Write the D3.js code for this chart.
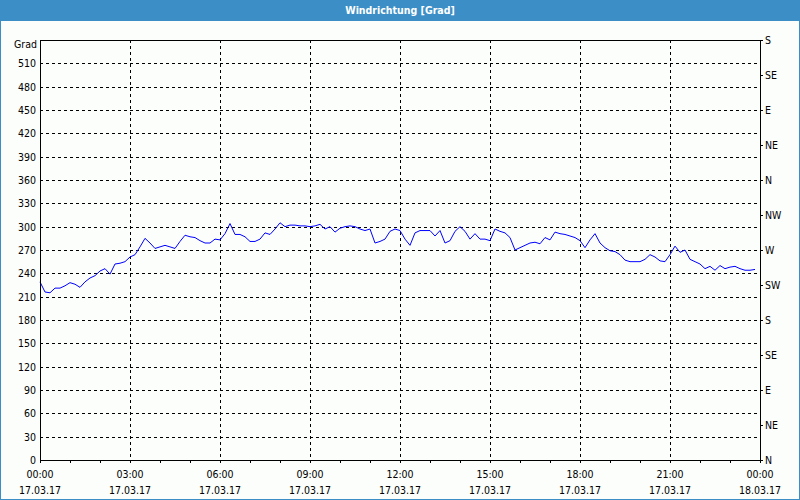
<!DOCTYPE html>
<html><head><meta charset="utf-8">
<script src="https://cdn.jsdelivr.net/npm/d3@7"></script>
<style>
html,body{margin:0;padding:0;background:#fff;}
svg text{font-family:"DejaVu Sans Condensed","DejaVu Sans",Verdana,sans-serif;}
</style></head><body>
<svg id="c" width="800" height="500"></svg>
<script>
const title = "Windrichtung [Grad]";
const unitLabel = "Grad";
const startTime = new Date(2017, 2, 17, 0, 0);
const endTime = new Date(2017, 2, 18, 0, 0);
const stepMinutes = 10;
const direction = [229,216,215,221,221,224,228,226,222,229,234,237,243,246,239,252,253,255,261,264,
274,285,279,272,274,276,274,272,281,289,287,286,282,279,279,284,283,291,304,290,
290,287,281,281,284,292,290,297,305,300,302,302,301,301,300,301,303,297,300,293,
298,300,301,300,297,295,297,279,281,284,294,297,295,284,276,292,295,295,295,288,
295,279,282,294,300,294,284,291,284,284,282,297,294,292,286,270,273,276,279,280,
278,286,283,293,291,290,288,286,282,273,283,291,279,273,269,268,264,257,255,255,
255,258,264,261,256,255,264,275,267,270,258,255,252,246,249,244,250,246,248,249,
246,244,244,245];
const leftTicks = d3.range(0, 511, 30);
const compassTicks = [0,45,90,135,180,225,270,315,360,405,450,495,540];
const compassLabels = ["N","NE","E","SE","S","SW","W","NW","N","NE","E","SE","S"];

const FONT = "DejaVu Sans Condensed, DejaVu Sans, sans-serif";
const svg = d3.select("#c");
const W = 800, H = 500;
const L = 40, R = 760, T = 40, B = 460;

svg.append("rect").attr("x",0).attr("y",0).attr("width",W).attr("height",H).attr("fill","#3c8fc6");
svg.append("rect").attr("x",1).attr("y",21).attr("width",W-2).attr("height",H-22).attr("fill","#fcfefc");
svg.append("text").attr("x",W/2).attr("y",14).attr("text-anchor","middle")
  .attr("fill","#fff").attr("font-size",10.5).attr("font-weight","bold").text(title);

const data = direction.map((v,i)=>({t:new Date(startTime.getTime()+i*stepMinutes*60000), v}));
const x = d3.scaleTime().domain([startTime,endTime]).range([L,R]);
const y = d3.scaleLinear().domain([0,540]).range([B,T]);

const g = svg.append("g");
const hGrid = leftTicks.filter(d=>d>0);
g.selectAll(".hg").data(hGrid).join("line")
  .attr("x1",L).attr("x2",R).attr("y1",d=>y(d)+0.5).attr("y2",d=>y(d)+0.5)
  .attr("stroke","#000").attr("stroke-dasharray","3,3").attr("shape-rendering","crispEdges");
const vTimes = d3.timeHour.every(3).range(startTime,endTime).filter(d=>d>startTime);
g.selectAll(".vg").data(vTimes).join("line")
  .attr("x1",d=>Math.round(x(d))+0.5).attr("x2",d=>Math.round(x(d))+0.5).attr("y1",T).attr("y2",B)
  .attr("stroke","#000").attr("stroke-dasharray","3,3").attr("shape-rendering","crispEdges");

const line = d3.line().x(d=>x(d.t)).y(d=>y(d.v));
g.append("path").datum(data).attr("d",line).attr("fill","none").attr("stroke","#0000ff").attr("stroke-width",1);

const fr = svg.append("g").attr("stroke","#000").attr("shape-rendering","crispEdges");
fr.append("line").attr("x1",L).attr("x2",R+1).attr("y1",T+0.5).attr("y2",T+0.5);
fr.append("line").attr("x1",L+0.5).attr("x2",L+0.5).attr("y1",T).attr("y2",B+1);
fr.append("line").attr("x1",R+0.5).attr("x2",R+0.5).attr("y1",T).attr("y2",B+1);
fr.append("line").attr("x1",L).attr("x2",R+1).attr("y1",B+0.5).attr("y2",B+0.5);

const la = svg.append("g").attr("transform",`translate(${L},0)`)
  .call(d3.axisLeft(y).tickValues(leftTicks).tickSize(0).tickPadding(4));
la.select(".domain").remove();
la.selectAll("text").attr("font-size",10.5).attr("fill","#000").attr("font-family",FONT);
svg.append("text").attr("x",L-3).attr("y",y(540)+8).attr("text-anchor","end")
  .attr("font-size",10.5).attr("fill","#000").text(unitLabel);

const ra = svg.append("g").attr("transform",`translate(${R},0)`)
  .call(d3.axisRight(y).tickValues(compassTicks).tickSize(3).tickPadding(2)
    .tickFormat((d,i)=>compassLabels[i]));
ra.select(".domain").remove();
ra.selectAll("line").attr("stroke","#000");
ra.selectAll("text").attr("font-size",10.5).attr("fill","#000").attr("font-family",FONT);

const hours = d3.timeHour.every(1).range(startTime, new Date(endTime.getTime()+1));
const ba = svg.append("g").attr("transform",`translate(0,${B})`)
  .call(d3.axisBottom(x).tickValues(hours).tickSize(3).tickFormat(""));
ba.select(".domain").remove();
ba.selectAll("line").attr("stroke","#000");
const majors = d3.timeHour.every(3).range(startTime, new Date(endTime.getTime()+1));
const fT = d3.timeFormat("%H:%M"), fD = d3.timeFormat("%d.%m.%y");
svg.selectAll(".tl").data(majors).join("text").attr("x",d=>x(d)).attr("y",B+18)
  .attr("text-anchor","middle").attr("font-size",10.5).attr("fill","#000").text(fT);
svg.selectAll(".dl").data(majors).join("text").attr("x",d=>x(d)).attr("y",B+34)
  .attr("text-anchor","middle").attr("font-size",10.5).attr("fill","#000").text(fD);
</script>
</body></html>
